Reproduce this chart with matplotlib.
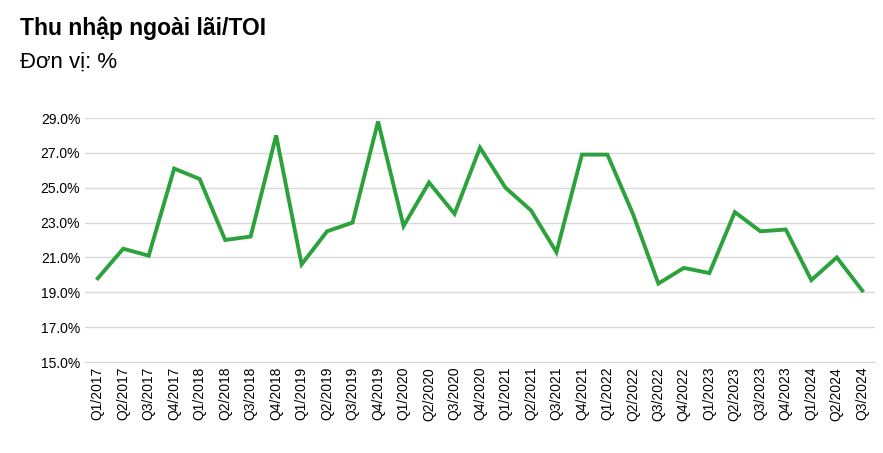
import matplotlib
matplotlib.use("Agg")
import matplotlib.pyplot as plt
import numpy as np

quarters = [f"Q{q}/{y}" for y in range(2017, 2025) for q in range(1, 5)][:31]
values = [19.8, 21.5, 21.1, 26.1, 25.5, 22.0, 22.2, 28.0, 20.6, 22.5, 23.0, 28.8,
          22.8, 25.3, 23.5, 27.3, 25.0, 23.7, 21.3, 26.9, 26.9, 23.5, 19.5, 20.4,
          20.1, 23.6, 22.5, 22.6, 19.7, 21.0, 19.1]
yticks = [15, 17, 19, 21, 23, 25, 27, 29]

plt.rcParams["font.family"] = ["Liberation Sans", "DejaVu Sans"]

fig = plt.figure(figsize=(8.83, 4.53), dpi=100)
ax = fig.add_axes([85 / 883, 1 - 362 / 453, 790 / 883, 244 / 453])
x = np.arange(len(values))
ax.plot(x, values, color="#2ca23c", linewidth=2.8, solid_joinstyle="miter")
ax.set_ylim(15, 29)
ax.set_xlim(-0.5, len(values) - 0.5)
ax.set_yticks(yticks)
ax.set_yticklabels([f"{v:.1f}%" for v in yticks], fontsize=10)
ax.set_xticks(x)
ax.set_xticklabels(quarters, rotation=90, fontsize=10)
ax.grid(axis="y", color="#d9d9d9", linewidth=1)
ax.tick_params(length=0)
for s in ["top", "right", "left"]:
    ax.spines[s].set_visible(False)
ax.spines["bottom"].set_color("#d9d9d9")
ax.set_axisbelow(True)

fig.text(20 / 883, 1 - 28 / 453, "Thu nhập ngoài lãi/TOI", fontsize=16.5, fontweight="bold", va="center")
fig.text(20 / 883, 1 - 62 / 453, "Đơn vị: %", fontsize=16, va="center")

fig.savefig("out.png")
